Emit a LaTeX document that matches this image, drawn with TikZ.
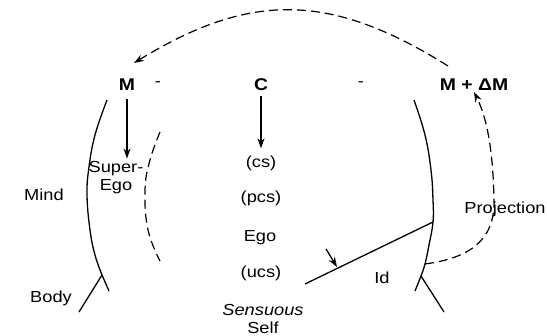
\documentclass[tikz,border=0pt]{standalone}
\usepackage{fontspec}
\setmainfont{Liberation Sans}[FakeStretch=1.14]
\usepackage{tikz}
\usetikzlibrary{arrows.meta, positioning}

\begin{document}
\begin{tikzpicture}[x=1pt, y=-1pt,
		lbl/.style={font=\fontsize{16}{18}\selectfont, inner sep=1pt, align=center},
		big/.style={font=\fontsize{17}{18}\selectfont\bfseries, inner sep=1pt},
		head/.style={line width=1.3pt},
		dashline/.style={line width=1.2pt, dash pattern=on 9pt off 5pt},
		tip/.style={-{Stealth[length=10pt, width=7pt]}}]
				\useasboundingbox (0,0) rectangle (547,336);
				% Labels:
				\node[big](M) at (127,85){M};
				\node[lbl](dashL) at (158,84){-};
				\node[big](C) at (261,85){C};
				\node[lbl](dashR) at (361,84){-};
				\node[big](MdM) at (474,85){M + ΔM};
				\node[lbl](SE) at (116,178){Super-\\Ego};
				\node[lbl](cs) at (261,163){(cs)};
				\node[lbl](pcs) at (261,198){(pcs)};
				\node[lbl](Ego) at (260,238){Ego};
				\node[lbl](ucs) at (261,273){(ucs)};
				\node[lbl](Self) at (263,319){\itshape Sensuous\\Self};
				\node[lbl](Mind) at (44,195){Mind};
				\node[lbl](Body) at (51,298){Body};
				\node[lbl](Id) at (382,278){Id};
				\node[lbl](Proj) at (505,209){Projection};
				% Points on the head:
				\coordinate (LJ) at (102,275);
				\coordinate (RJ) at (421,276);
				\coordinate (IdA) at (305,284);
				\coordinate (IdB) at (433,222);
				\coordinate (PrA) at (425,264);
				\coordinate (TopA) at (448,66);
				\coordinate (TopB) at (134,63);
				% Head outline and forks:
				\draw[head] plot[smooth, tension=0.7] coordinates {(107,100) (95,135) (89,167) (87,195) (90,230) (95,255) (LJ)};
				\draw[head] plot[smooth, tension=0.7] coordinates {(414,100) (425,135) (431,170) (433,200) (IdB) (429,245) (PrA) (RJ)};
				\draw[head] (LJ) -- (79,312);
				\draw[head] (LJ) -- (109,291);
				\draw[head] (RJ) -- (415,291);
				\draw[head] (RJ) -- (444,312);
				\draw[dashline] plot[smooth, tension=0.7] coordinates {(160,132) (150,160) (145,190) (148,230) (160,261)};
				% Arrows:
				\draw[head, tip, shorten <=7pt, shorten >=2pt] (M.south) -- (M.south |- SE.north);
				\draw[head, tip, shorten <=4pt, shorten >=6pt] (C.south) -- (cs.north);
				\draw[head] (IdA) -- (IdB);
				\draw[head, tip] (326,249) -- (337,267);
				\draw[dashline, tip] (TopA) .. controls (330,-8) and (250,-8) .. (TopB);
				\draw[dashline, tip] (PrA) .. controls (470,258) and (495,240) .. (494,200) .. controls (493,150) and (487,118) .. (MdM.south);
			\end{tikzpicture}
\end{document}
